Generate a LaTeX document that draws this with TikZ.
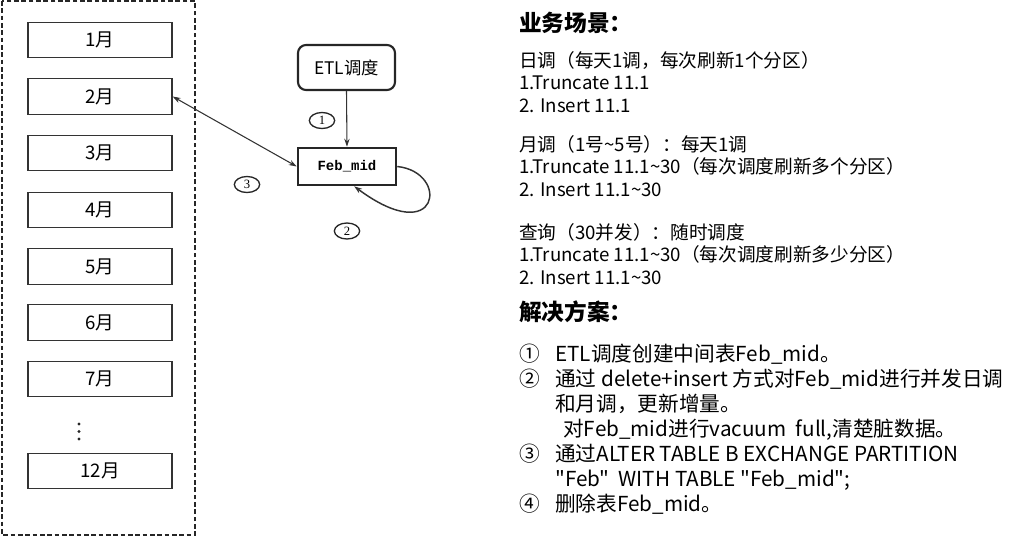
\documentclass[tikz,border=0pt]{standalone}
\usepackage{fontspec}
\setmainfont{Noto Sans CJK SC}[Ligatures=TeXOff]
\newfontfamily\monob{Liberation Mono}
\newfontfamily\serifn{Liberation Serif}
\usetikzlibrary{shapes.geometric,arrows.meta}
\tikzset{
  month/.style={draw=black!80, line width=1pt, minimum width=108pt, minimum height=26.6pt, inner sep=0pt, font=\fontsize{14pt}{16pt}\selectfont},
  etlbox/.style={draw=black!85, line width=1.6pt, rounded corners=6pt, minimum width=72.75pt, minimum height=33.75pt, inner sep=0pt, font=\fontsize{13pt}{15pt}\selectfont},
  febbox/.style={draw=black!85, line width=1.9pt, minimum width=73.5pt, minimum height=27.75pt, inner sep=0pt, font=\monob\bfseries\fontsize{10.5pt}{12pt}\selectfont},
  numoval/.style={draw=black!85, ellipse, line width=1pt, minimum width=19pt, minimum height=12pt, inner sep=0pt, font=\serifn\fontsize{9.5pt}{10pt}\selectfont},
  conn/.style={draw=black!80, line width=0.8pt},
  tip/.style={-{Stealth[length=6pt,width=4pt]}},
  txt/.style={anchor=base west, inner sep=0pt, font=\fontsize{14pt}{16pt}\selectfont},
  ttl/.style={anchor=base west, inner sep=0pt, font=\bfseries\fontsize{17pt}{20pt}\selectfont},
  lst/.style={anchor=base west, inner sep=0pt, font=\fontsize{15.5pt}{18pt}\selectfont}
}
\begin{document}
\begin{tikzpicture}[x=0.75pt,y=-0.75pt]
\useasboundingbox (0,0) rectangle (1033,537);
% outer dashed frame
\draw[black!85, line width=0.9pt, dash pattern=on 3.5pt off 2pt] (2,1) rectangle (195,535);
% month boxes
\node[month] (m1) at (100,40) {1月};
\node[month] (m2) at (100,96.5) {2月};
\node[month] (m3) at (100,153) {3月};
\node[month] (m4) at (100,210) {4月};
\node[month] (m5) at (100,266.5) {5月};
\node[month] (m6) at (100,322.5) {6月};
\node[month] (m7) at (100,379) {7月};
\foreach \yy in {424,431.5,439} \fill[black!85] (79,\yy) circle[radius=1.2pt];
\node[month] (m12) at (100,471) {12月};
% flow
\node[etlbox] (etl) at (346.5,67.5) {ETL调度};
\node[febbox] (feb) at (347,166.5) {Feb\_mid};
\draw[conn,tip] (etl.south) -- (feb.north);
\draw[conn,{Stealth[length=6pt,width=4pt]}-{Stealth[length=6pt,width=4pt]}] (m2.east) -- (feb.west);
\draw[conn,tip, line width=1.1pt] (feb.east) .. controls (450,172) and (440,250) .. (feb.290);
\node[numoval] (n1) at (322,120.5) {1};
\node[numoval] (n2) at (347,231) {2};
\node[numoval] (n3) at (247,184.5) {3};
% right text
\node[ttl] (t1) at (519,31) {业务场景：};
\node[txt] (a1) at (519,67) {日调（每天1调，每次刷新1个分区）};
\node[txt] (a2) at (519,89) {1.Truncate 11.1};
\node[txt] (a3) at (519,112) {2. Insert 11.1};
\node[txt] (b1) at (519,151) {月调（1号\textasciitilde 5号）：每天1调};
\node[txt] (b2) at (519,173) {1.Truncate 11.1\textasciitilde 30（每次调度刷新多个分区）};
\node[txt] (b3) at (519,196) {2. Insert 11.1\textasciitilde 30};
\node[txt] (c1) at (519,239) {查询（30并发）：随时调度};
\node[txt] (c2) at (519,261) {1.Truncate 11.1\textasciitilde 30（每次调度刷新多少分区）};
\node[txt] (c3) at (519,284) {2. Insert 11.1\textasciitilde 30};
\node[ttl] (t2) at (519,320) {解决方案：};
\node[lst] (k1) at (519,361) {①};
\node[lst] (l1) at (555,361) {ETL调度创建中间表Feb\_mid。};
\node[lst] (k2) at (519,386) {②};
\node[lst] (l2) at (555,386) {通过 delete+insert 方式对Feb\_mid进行并发日调};
\node[lst] (l2b) at (555,411) {和月调，更新增量。};
\node[lst] (l2c) at (563,436) {对Feb\_mid进行vacuum\ \ full,清楚脏数据。};
\node[lst] (k3) at (519,461) {③};
\node[lst] (l3) at (555,461) {通过ALTER TABLE B EXCHANGE PARTITION};
\node[lst] (l3b) at (555,486) {"Feb"\ \ WITH TABLE "Feb\_mid";};
\node[lst] (k4) at (519,511) {④};
\node[lst] (l4) at (555,511) {删除表Feb\_mid。};
\end{tikzpicture}
\end{document}
